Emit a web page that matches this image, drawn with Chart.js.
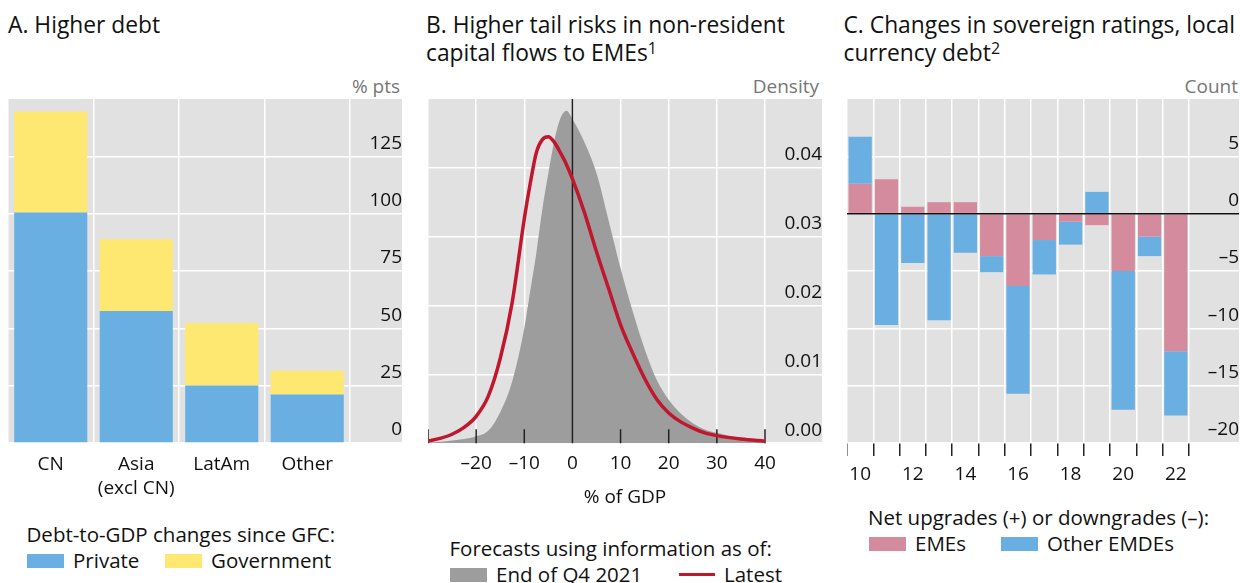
<!DOCTYPE html>
<html>
<head>
<meta charset="utf-8">
<script src="https://cdn.jsdelivr.net/npm/chart.js@4.4.1/dist/chart.umd.min.js"></script>
<style>
  html, body { margin: 0; padding: 0; background: #fff; }
  body { position: relative; width: 1240px; height: 583px; overflow: hidden; font-family: "Open Sans", sans-serif; color: #111; }
  canvas { position: absolute; }
  .title { position: absolute; top: 11px; font-size: 22.8px; line-height: 28px; white-space: nowrap; }
  .title sup { font-size: 16px; line-height: 0; vertical-align: 7px; }
  .unit { position: absolute; top: 74.5px; font-size: 19px; line-height: 22px; color: #767676; white-space: nowrap; }
  .leg { position: absolute; font-size: 20.5px; line-height: 26px; white-space: nowrap; }
  .sw { display: inline-block; width: 37px; height: 14px; margin-right: 9px; }
  .ln { display: inline-block; width: 36px; height: 3px; background: #c0162e; vertical-align: 6px; margin-right: 9px; }
</style>
</head>
<body>

<div class="title" style="left:8px">A. Higher debt</div>
<div class="title" style="left:426px">B. Higher tail risks in non-resident<br>capital flows to EMEs<sup>1</sup></div>
<div class="title" style="left:843.5px">C. Changes in sovereign ratings, local<br>currency debt<sup>2</sup></div>

<div class="unit" style="right:840px">% pts</div>
<div class="unit" style="right:421px">Density</div>
<div class="unit" style="right:2px">Count</div>

<canvas id="chartA" width="394" height="400" style="left:8px;top:99px"></canvas>
<canvas id="chartB" width="394" height="410" style="left:428px;top:99px"></canvas>
<canvas id="chartC" width="392" height="394" style="left:847px;top:99px"></canvas>

<div class="leg" style="left:26.5px;top:521px">Debt-to-GDP changes since GFC:</div>
<div class="leg" style="left:27px;top:547px"><i class="sw" style="background:#6aafe1"></i>Private</div>
<div class="leg" style="left:165px;top:547px"><i class="sw" style="background:#ffe872"></i>Government</div>

<div class="leg" style="left:449.5px;top:534.5px">Forecasts using information as of:</div>
<div class="leg" style="left:450px;top:560.5px"><i class="sw" style="background:#9d9d9d"></i>End of Q4 2021</div>
<div class="leg" style="left:679px;top:560.5px"><i class="ln"></i>Latest</div>

<div class="leg" style="left:868px;top:504px">Net upgrades (+) or downgrades (&ndash;):</div>
<div class="leg" style="left:869px;top:530px"><i class="sw" style="background:#d48b9d"></i>EMEs</div>
<div class="leg" style="left:1001px;top:530px"><i class="sw" style="background:#6aafe1"></i>Other EMDEs</div>

<script>
// Panel A: debt-to-GDP changes since GFC, % pts
const regions = ['CN', ['Asia', '(excl CN)'], 'LatAm', 'Other'];
const privateDebt = [100.5, 57.6, 25.1, 21.1];
const governmentDebt = [44.1, 31.2, 27.2, 10.4];
const debtTicks = [0, 25, 50, 75, 100, 125];

// Panel B: density of non-resident capital flows, % of GDP
const flowX = [-30, -27.5, -25, -22.5, -20, -17.5, -15, -12.5, -10, -8.75, -7.5, -6.25, -5, -3.75, -2.5, -1.25,
  0, 2.5, 5, 7.5, 10, 12.5, 15, 17.5, 20, 22.5, 25, 27.5, 30, 35, 40];
const flowEndQ4 = [0.0001, 0.0002, 0.0004, 0.0006, 0.0010, 0.0018, 0.0045, 0.0090, 0.0167, 0.0222, 0.0276, 0.0340,
  0.0392, 0.0440, 0.0472, 0.0483, 0.0471, 0.0437, 0.0392, 0.0324, 0.0254, 0.0192, 0.0137, 0.0092, 0.0063,
  0.0043, 0.0029, 0.0020, 0.0015, 0.0007, 0.0003];
const flowLatest = [0.0003, 0.0007, 0.0013, 0.0023, 0.0039, 0.0068, 0.0123, 0.0205, 0.0326, 0.0378, 0.0422, 0.0441,
  0.0445, 0.0437, 0.0422, 0.0405, 0.0384, 0.0335, 0.0278, 0.0225, 0.0172, 0.0131, 0.0094, 0.0064, 0.0044,
  0.0031, 0.0022, 0.0015, 0.0011, 0.0006, 0.0003];
const flowTicks = [-30, -20, -10, 0, 10, 20, 30, 40];
const densityTicks = [0, 0.01, 0.02, 0.03, 0.04];

// Panel C: net rating changes, count
const years = ['10', '11', '12', '13', '14', '15', '16', '17', '18', '19', '20', '21', '22'];
const ratingsEMEs = [2.6, 3.0, 0.6, 1.0, 1.0, -3.7, -6.3, -2.3, -0.7, -1.0, -5.0, -2.0, -12.0];
const ratingsOther = [4.1, -9.7, -4.3, -9.3, -3.4, -1.4, -9.4, -3.0, -2.0, 1.9, -12.1, -1.7, -5.6];
const countTicks = [-20, -15, -10, -5, 0, 5];

const BLUE = '#6aafe1', YELLOW = '#ffe872', PINK = '#d48b9d', GREY = '#9d9d9d', RED = '#c0162e';
const FONT = '"Open Sans", sans-serif';

Chart.defaults.font.family = FONT;
Chart.defaults.font.size = 19;
Chart.defaults.color = '#111';
Chart.defaults.animation = false;
Chart.defaults.plugins.legend.display = false;
Chart.defaults.plugins.tooltip.enabled = false;

const signed = v => v < 0 ? '\u2013' + Math.abs(v) : String(v);

function widest(labels) {
    const ctx = document.createElement('canvas').getContext('2d');
    ctx.font = '19px ' + FONT;
    return Math.max(...labels.map(l => ctx.measureText(l).width));
}

// fixed axis size, no extra layout padding from the labels
function fixSize(prop, size) {
    return s => {
        s[prop] = size;
        s.paddingLeft = s.paddingRight = s.paddingTop = s.paddingBottom = 0;
    };
}

// y axis on the right, labels sit above their grid line, right aligned
function rightAxis(min, max, ticks, format, width, labelRight) {
    return {
        position: 'right',
        min: min,
        max: max,
        afterBuildTicks: s => { s.ticks = ticks.map(v => ({ value: v })); },
        afterFit: fixSize('width', width),
        border: { display: false },
        grid: { color: '#fff', lineWidth: 1.5, tickLength: width },
        ticks: {
            callback: v => format(v),
            crossAlign: 'far',
            labelOffset: -13,
            padding: labelRight - width - widest(ticks.map(format))
        }
    };
}

const plotBackground = {
    id: 'plotBackground',
    beforeDraw(chart) {
        const { ctx, chartArea } = chart;
        ctx.save();
        ctx.fillStyle = '#e1e1e1';
        ctx.fillRect(chartArea.left, chartArea.top, chart.scales.y.right - chartArea.left, chartArea.bottom - chartArea.top);
        ctx.restore();
    }
};

// black tick marks inside the plot and the zero line, under the red line
const flowMarks = {
    id: 'flowMarks',
    beforeDatasetDraw(chart, args) {
        if (args.index !== 0) return;
        const { ctx, chartArea } = chart;
        const x = chart.scales.x;
        ctx.save();
        ctx.strokeStyle = '#222';
        ctx.lineWidth = 1.5;
        ctx.beginPath();
        x.ticks.forEach(t => {
            const px = x.getPixelForValue(t.value);
            ctx.moveTo(px, chartArea.bottom);
            ctx.lineTo(px, chartArea.bottom - 14);
        });
        const zero = x.getPixelForValue(0);
        ctx.moveTo(zero, chartArea.top);
        ctx.lineTo(zero, chartArea.bottom);
        ctx.stroke();
        ctx.restore();
    }
};

const zeroLine = {
    id: 'zeroLine',
    afterDatasetsDraw(chart) {
        const { ctx, chartArea } = chart;
        const y = chart.scales.y;
        const py = y.getPixelForValue(0);
        ctx.save();
        ctx.strokeStyle = '#111';
        ctx.lineWidth = 1.5;
        ctx.beginPath();
        ctx.moveTo(chartArea.left, py);
        ctx.lineTo(y.right, py);
        ctx.stroke();
        ctx.restore();
    }
};

new Chart(document.getElementById('chartA'), {
    type: 'bar',
    data: {
        labels: regions,
        datasets: [
            { label: 'Private', data: privateDebt, backgroundColor: BLUE },
            { label: 'Government', data: governmentDebt, backgroundColor: YELLOW }
        ]
    },
    options: {
        responsive: false,
        devicePixelRatio: 1,
        layout: { autoPadding: false },
        datasets: { bar: { categoryPercentage: 1, barPercentage: 0.855 } },
        scales: {
            x: {
                stacked: true,
                afterFit: fixSize('height', 56),
                border: { display: false },
                grid: { color: '#fff', lineWidth: 1.5, offset: true, drawTicks: false },
                ticks: { padding: 9, font: { lineHeight: 1.3 }, maxRotation: 0, autoSkip: false }
            },
            y: Object.assign({ stacked: true }, rightAxis(0, 150, debtTicks, v => String(v), 52, 45))
        }
    },
    plugins: [plotBackground]
});

new Chart(document.getElementById('chartB'), {
    type: 'line',
    data: {
        datasets: [
            {
                label: 'Latest',
                data: flowX.map((x, i) => ({ x: x, y: flowLatest[i] })),
                borderColor: RED,
                borderWidth: 3.5,
                pointRadius: 0,
                cubicInterpolationMode: 'monotone',
                fill: false
            },
            {
                label: 'End of Q4 2021',
                data: flowX.map((x, i) => ({ x: x, y: flowEndQ4[i] })),
                borderColor: 'transparent',
                borderWidth: 0,
                backgroundColor: GREY,
                pointRadius: 0,
                cubicInterpolationMode: 'monotone',
                fill: 'origin'
            }
        ]
    },
    options: {
        responsive: false,
        devicePixelRatio: 1,
        layout: { autoPadding: false },
        plugins: {
            title: {
                display: true,
                text: '% of GDP',
                position: 'bottom',
                padding: 0,
                color: '#111',
                font: { size: 19, weight: 'normal', lineHeight: 1.2 }
            }
        },
        scales: {
            x: {
                type: 'linear',
                min: -30,
                max: 40,
                afterBuildTicks: s => { s.ticks = flowTicks.map(v => ({ value: v })); },
                afterFit: fixSize('height', 43),
                border: { display: false },
                grid: { color: '#fff', lineWidth: 1.5, drawTicks: false },
                ticks: { padding: 9, maxRotation: 0, callback: v => v === -30 ? '' : signed(v) }
            },
            y: rightAxis(0, 0.05, densityTicks, v => v.toFixed(2), 57, 49)
        }
    },
    plugins: [plotBackground, flowMarks]
});

new Chart(document.getElementById('chartC'), {
    type: 'bar',
    data: {
        labels: years,
        datasets: [
            { label: 'EMEs', data: ratingsEMEs, backgroundColor: PINK },
            { label: 'Other EMDEs', data: ratingsOther, backgroundColor: BLUE }
        ]
    },
    options: {
        responsive: false,
        devicePixelRatio: 1,
        layout: { autoPadding: false },
        datasets: { bar: { categoryPercentage: 1, barPercentage: 0.885 } },
        scales: {
            x: {
                stacked: true,
                afterFit: fixSize('height', 50),
                border: { display: false },
                grid: { color: '#fff', lineWidth: 1.5, offset: true, tickColor: '#222', tickLength: 13 },
                ticks: {
                    padding: 7.5,
                    maxRotation: 0,
                    autoSkip: false,
                    callback: (v, i) => i % 2 ? '' : years[i]
                }
            },
            y: Object.assign({ stacked: true }, rightAxis(-20, 10, countTicks, signed, 50, 45))
        }
    },
    plugins: [plotBackground, zeroLine]
});
</script>
</body>
</html>
